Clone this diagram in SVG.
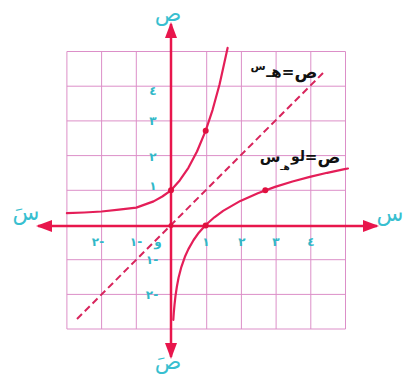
<svg xmlns="http://www.w3.org/2000/svg" width="405" height="383" viewBox="0 0 405 383">
<style>
.grid{stroke:#dc8fc8;stroke-width:1;fill:none}
.axis{stroke:#e8164c;stroke-width:2.5;fill:none}
.curve{stroke:#e41e58;stroke-width:2.2;fill:none;stroke-linejoin:round;stroke-linecap:round}
.dash{stroke:#d8245c;stroke-width:2;fill:none;stroke-dasharray:7 4}
.dot{fill:#e0103f}
.lbl{font-family:"DejaVu Sans",sans-serif;fill:#38bfd0}
.tick{font-family:"DejaVu Sans",sans-serif;fill:#30b8c8;font-size:12px;font-weight:bold;text-anchor:middle}
.eq{font-family:"DejaVu Sans",sans-serif;fill:#111;font-weight:bold}
</style>
<defs>
<marker id="ah" markerWidth="16" markerHeight="12" refX="14" refY="6" orient="auto-start-reverse" markerUnits="userSpaceOnUse">
<path d="M0,0 L16,6 L0,12 Z" fill="#e8164c"/>
</marker>
</defs>
<rect width="405" height="383" fill="#ffffff"/>
<g id="grid">
<path class="grid" d="M66.9,51.5V329M101.6,51.5V329M136.3,51.5V329M206.7,51.5V329M241.4,51.5V329M276.1,51.5V329M310.8,51.5V329M345.5,51.5V329"/>
<path class="grid" d="M66.9,51.5H345.5M66.9,86.2H345.5M66.9,120.9H345.5M66.9,155.6H345.5M66.9,190.3H345.5M66.9,259.7H345.5M66.9,294.4H345.5M66.9,329H345.5"/>
</g>
<g id="connectors">
<line class="axis" x1="171" y1="226" x2="38" y2="226" marker-end="url(#ah)"/>
<line class="axis" x1="171" y1="226" x2="377" y2="226" marker-end="url(#ah)"/>
<line class="axis" x1="171" y1="225" x2="171" y2="24" marker-end="url(#ah)"/>
<line class="axis" x1="171" y1="225" x2="171" y2="357" marker-end="url(#ah)"/>
<line class="dash" x1="77" y1="319" x2="323" y2="73"/>
<path id="exp" class="curve" d="M66.9,213.2 L84.3,212.5 L101.6,211.5 L119,209.7 L136.3,207.6 L153.6,201.4 L162.3,196.5 L171,190.3 L179.7,180.4 L188.4,167.8 L197,151.5 L205.7,130.7 L212.6,109.8 L219.6,84.3 L226.5,53.1 L227.6,47.9"/>
<path id="log" class="curve" d="M173.3,319.8 L173.8,312.6 L174.5,304.9 L175.5,295.8 L176.9,286.5 L178.6,277.5 L181.4,266.8 L184.9,256.8 L188.4,249.1 L193.6,240 L198.8,232.7 L205.7,225 L214.4,217.3 L223.1,210.9 L240.4,200.9 L257.8,193.2 L275.1,186.9 L292.5,181.5 L309.8,176.9 L327.2,172.8 L344.5,169.2 L348,168.5"/>
</g>
<g id="points">
<circle class="dot" cx="171" cy="190.3" r="3"/>
<circle class="dot" cx="205.7" cy="130.7" r="3"/>
<circle class="dot" cx="205.7" cy="225.5" r="3"/>
<circle class="dot" cx="265.3" cy="190.3" r="3"/>
<circle class="dot" cx="171" cy="225.5" r="2.5"/>
</g>
<g id="axis-labels">
<text class="lbl" x="168" y="21" font-size="22" text-anchor="middle">ص</text>
<text class="lbl" x="168" y="369" font-size="22" text-anchor="middle">صَ</text>
<text class="lbl" x="390" y="221" font-size="22" text-anchor="middle">س</text>
<text class="lbl" x="26" y="220" font-size="22" text-anchor="middle">سَ</text>
</g>
<g id="ticks">
<text class="tick" x="98" y="246" direction="ltr">٢-</text>
<text class="tick" x="136" y="246" direction="ltr">١-</text>
<text class="tick" x="158" y="246">و</text>
<text class="tick" x="206" y="246">١</text>
<text class="tick" x="242" y="246">٢</text>
<text class="tick" x="276" y="246">٣</text>
<text class="tick" x="311" y="246">٤</text>
<text class="tick" x="153" y="95">٤</text>
<text class="tick" x="153" y="125">٣</text>
<text class="tick" x="153" y="161">٢</text>
<text class="tick" x="153" y="190">١</text>
<text class="tick" x="152" y="264" direction="ltr">١-</text>
<text class="tick" x="152" y="299" direction="ltr">٢-</text>
</g>
<g id="label-exp">
<text class="eq" x="306" y="78" font-size="17" text-anchor="middle">ص</text>
<text class="eq" x="288" y="77" font-size="15" text-anchor="middle">=</text>
<text class="eq" x="274" y="77" font-size="15" text-anchor="middle">هـ</text>
<text class="eq" x="258" y="70" font-size="11" text-anchor="middle">س</text>
</g>
<g id="label-log">
<text class="eq" x="329" y="163" font-size="17" text-anchor="middle">ص</text>
<text class="eq" x="311" y="162" font-size="15" text-anchor="middle">=</text>
<text class="eq" x="298" y="161" font-size="14" text-anchor="middle">لو</text>
<text class="eq" x="285" y="170" font-size="9" text-anchor="middle">هـ</text>
<text class="eq" x="270" y="162" font-size="15" text-anchor="middle">س</text>
</g>
</svg>
